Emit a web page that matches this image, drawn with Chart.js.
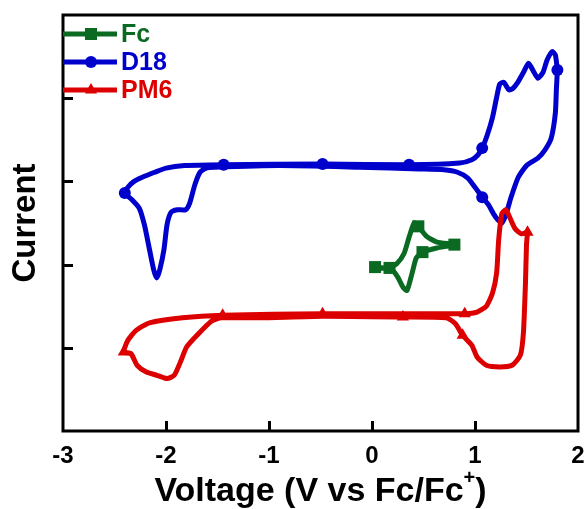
<!DOCTYPE html>
<html>
<head>
<meta charset="utf-8">
<script src="https://cdn.jsdelivr.net/npm/chart.js@4.4.0/dist/chart.umd.min.js"></script>
<style>
  html, body { margin: 0; padding: 0; background: #ffffff; }
  #c { display: block; }
</style>
</head>
<body>
<canvas id="c" width="587" height="509" style="width:587px;height:509px"></canvas>
<script>
// ---- data (V vs Fc/Fc+, current in arbitrary units) ----
const fcV  = [0.03,0.17,0.24,0.31,0.36,0.41,0.45,0.53,0.63,0.80,0.63,0.49,0.43,0.39,0.34,0.30,0.25,0.19,0.07,0.03];
const fcI  = [1.97,1.96,2.01,2.13,2.33,2.50,2.46,2.34,2.27,2.24,2.20,2.15,2.08,1.90,1.69,1.73,1.85,1.94,1.96,1.97];
const fcMarks = [0,1,6,9,11];

const d18V = [1.80,1.79,1.78,1.74,1.68,1.61,1.50,1.42,1.35,1.30,1.26,1.22,1.18,1.13,1.07,1.00,0.93,0.83,0.70,0.46,
              -0.12,-0.90,-1.53,-1.61,-1.67,-1.72,-1.77,-1.81,-1.89,-1.95,-1.99,-2.02,-2.06,-2.09,-2.12,-2.16,-2.21,-2.26,-2.33,-2.40,
              -2.37,-2.31,-2.23,-2.11,-2.00,-1.82,-1.44,-0.48,0.36,0.85,0.97,1.03,1.07,1.12,1.17,1.21,1.24,1.28,1.33,1.37,
              1.41,1.47,1.52,1.56,1.61,1.66,1.70,1.75,1.78,1.80];
const d18I = [4.34,4.10,3.82,3.52,3.38,3.28,3.19,3.05,2.81,2.60,2.50,2.54,2.61,2.72,2.81,2.93,3.04,3.11,3.14,3.15,
              3.17,3.19,3.17,3.16,3.11,2.96,2.74,2.66,2.66,2.63,2.48,2.18,1.94,1.84,1.94,2.18,2.48,2.68,2.78,2.86,
              2.93,3.00,3.05,3.11,3.16,3.19,3.20,3.21,3.20,3.22,3.26,3.32,3.40,3.56,3.77,4.01,4.17,4.19,4.10,4.12,
              4.18,4.31,4.42,4.34,4.24,4.31,4.46,4.56,4.52,4.34];
const d18Marks = [0,14,39,46,47,48,52];

const pm6V = [1.51,1.50,1.49,1.47,1.44,1.36,1.24,1.11,1.02,0.97,0.88,0.81,0.72,0.30,-0.48,-1.09,-1.46,-1.56,-1.70,-1.80,
              -1.86,-1.92,-1.99,-2.09,-2.19,-2.28,-2.34,-2.41,-2.37,-2.29,-2.16,-1.84,-1.45,-0.48,0.27,0.90,1.02,1.11,1.17,1.21,
              1.23,1.26,1.30,1.34,1.39,1.45,1.51];
const pm6I = [2.39,2.24,1.78,1.18,0.91,0.79,0.77,0.79,0.89,1.03,1.15,1.29,1.36,1.37,1.38,1.36,1.36,1.32,1.15,1.01,
              0.83,0.67,0.63,0.67,0.71,0.79,0.93,0.95,1.09,1.21,1.30,1.36,1.39,1.41,1.41,1.41,1.43,1.50,1.66,1.90,
              2.30,2.61,2.66,2.56,2.43,2.37,2.39];
const pm6Marks = [0,10,13,27,32,33,35];

const xTickValues = [-3,-2,-1,0,1,2];
const xInnerTicks = [-2,-1,0,1];
const yInnerTicks = [1,2,3,4];
const seriesNames = ['Fc','D18','PM6'];

// ---- styles ----
const COLORS = { Fc: '#0B6A22', D18: '#0000CD', PM6: '#DD0000' };
const STYLES = { Fc: ['rect', 8.5], D18: ['circle', 6], PM6: ['triangle', 7] };

function makeSet(name, xs, ys, marks) {
  const [ps, r] = STYLES[name];
  return {
    label: name,
    data: xs.map((v, i) => ({ x: v, y: ys[i] })),
    showLine: true,
    borderColor: COLORS[name],
    backgroundColor: COLORS[name],
    borderWidth: 5,
    tension: 0.2,
    pointStyle: ps,
    pointRadius: xs.map((_, i) => marks.includes(i) ? r : 0),
    pointHoverRadius: 0,
    pointBackgroundColor: COLORS[name],
    pointBorderColor: COLORS[name],
    pointBorderWidth: 0
  };
}

const FONT = '"Liberation Sans", Arial, Helvetica, sans-serif';

const framePlugin = {
  id: 'frame',
  afterDatasetsDraw(chart) {
    const { ctx, chartArea: a, scales } = chart;
    ctx.save();
    ctx.strokeStyle = '#000';
    ctx.lineWidth = 3;
    ctx.lineCap = 'butt';
    // inward ticks
    ctx.beginPath();
    yInnerTicks.forEach(v => {
      const py = Math.round(scales.y.getPixelForValue(v)) + 0.5;
      ctx.moveTo(a.left, py); ctx.lineTo(a.left + 10, py);
    });
    xInnerTicks.forEach(v => {
      const px = Math.round(scales.x.getPixelForValue(v)) + 0.5;
      ctx.moveTo(px, a.bottom); ctx.lineTo(px, a.bottom - 10);
    });
    ctx.stroke();
    ctx.strokeRect(a.left, a.top, a.right - a.left, a.bottom - a.top);

    // legend
    const rows = [['Fc', 34], ['D18', 62], ['PM6', 90]];
    rows.forEach(([name, y]) => {
      ctx.strokeStyle = COLORS[name];
      ctx.lineWidth = 5;
      ctx.beginPath();
      ctx.moveTo(a.left, a.top + y - 15); ctx.lineTo(a.left + 54, a.top + y - 15);
      ctx.stroke();
      ctx.fillStyle = COLORS[name];
      ctx.strokeStyle = COLORS[name];
      ctx.lineWidth = 0.1;
      Chart.helpers.drawPoint(ctx, { pointStyle: STYLES[name][0], radius: STYLES[name][1], rotation: 0, borderWidth: 0 }, a.left + 28, a.top + y - 15);
      ctx.font = 'bold 25px ' + FONT;
      ctx.textBaseline = 'middle';
      ctx.textAlign = 'left';
      ctx.fillText(name, a.left + 58, a.top + y - 14);
    });

    // axis titles
    ctx.fillStyle = '#000';
    const cx = (a.left + a.right) / 2;
    const ty = 489;
    const p1 = 'Voltage (V vs Fc/Fc', sup = '+', p2 = ')';
    ctx.font = 'bold 34px ' + FONT;
    const w1 = ctx.measureText(p1).width, w3 = ctx.measureText(p2).width;
    ctx.font = 'bold 20px ' + FONT;
    const w2 = ctx.measureText(sup).width;
    let x0 = cx - (w1 + w2 + w3) / 2;
    ctx.textBaseline = 'alphabetic';
    ctx.textAlign = 'left';
    ctx.font = 'bold 34px ' + FONT;
    ctx.fillText(p1, x0, ty + 12);
    ctx.font = 'bold 20px ' + FONT;
    ctx.fillText(sup, x0 + w1, ty - 5);
    ctx.font = 'bold 34px ' + FONT;
    ctx.fillText(p2, x0 + w1 + w2, ty + 12);

    ctx.translate(26, (a.top + a.bottom) / 2);
    ctx.rotate(-Math.PI / 2);
    ctx.textAlign = 'center';
    ctx.textBaseline = 'middle';
    ctx.font = 'bold 33px ' + FONT;
    ctx.fillText('Current', 0, 0);
    ctx.restore();
  }
};

new Chart(document.getElementById('c').getContext('2d'), {
  type: 'scatter',
  data: {
    datasets: [
      makeSet('PM6', pm6V, pm6I, pm6Marks),
      makeSet('D18', d18V, d18I, d18Marks),
      makeSet('Fc', fcV, fcI, fcMarks)
    ]
  },
  options: {
    responsive: false,
    animation: false,
    devicePixelRatio: 1,
    layout: { padding: { top: 15, right: 9, left: 0, bottom: 0 } },
    plugins: { legend: { display: false }, tooltip: { enabled: false }, title: { display: false } },
    scales: {
      x: {
        type: 'linear', min: -3, max: 2,
        afterBuildTicks: s => { s.ticks = xTickValues.map(v => ({ value: v })); },
        ticks: { color: '#000', font: { family: FONT, weight: 'bold', size: 24 }, padding: 11, maxRotation: 0, autoSkip: false },
        grid: { display: false, drawTicks: false },
        border: { display: false },
        afterFit: s => { s.height = 78; s.paddingLeft = 0; s.paddingRight = 0; }
      },
      y: {
        type: 'linear', min: 0, max: 5,
        ticks: { display: false },
        grid: { display: false, drawTicks: false },
        border: { display: false },
        afterFit: s => { s.width = 63; s.paddingTop = 0; s.paddingBottom = 0; }
      }
    }
  },
  plugins: [framePlugin]
});
</script>
</body>
</html>
